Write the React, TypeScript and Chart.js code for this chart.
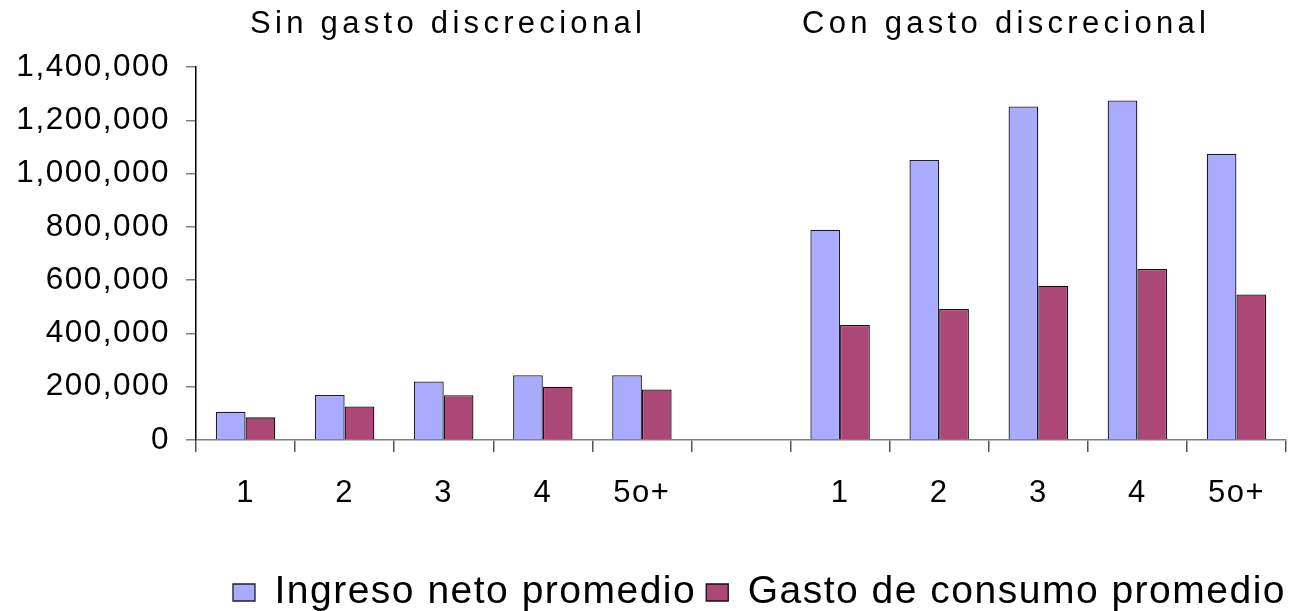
import React, { useEffect, useRef } from 'react';
import { Chart, registerables } from 'chart.js';

Chart.register(...registerables);

const categories = ['1', '2', '3', '4', '5o+', '', '1', '2', '3', '4', '5o+'];
const ingresoNeto = [106000, 169000, 220000, 243000, 243000, null, 789000, 1051000, 1252000, 1274000, 1074000];
const gastoConsumo = [85000, 126000, 168000, 200000, 190000, null, 432000, 492000, 579000, 642000, 546000];
const seriesLabels = ['Ingreso neto promedio', 'Gasto de consumo promedio'];
const groupTitles = ['Sin gasto discrecional', 'Con gasto discrecional'];
const yMin = 0;
const yMax = 1400000;
const yStep = 200000;

const FONT = '"Liberation Sans", Arial, Helvetica, sans-serif';

const spacingPlugin = {
  id: 'letterSpacing',
  beforeUpdate(chart: any) {
    chart.ctx.letterSpacing = '1.5px';
  },
  beforeDraw(chart: any) {
    chart.ctx.letterSpacing = '1.5px';
  },
};

export default function App() {
  const canvasRef = useRef<HTMLCanvasElement | null>(null);

  useEffect(() => {
    if (!canvasRef.current) return;
    Chart.defaults.font.family = FONT;
    Chart.defaults.color = '#000';
    const chart = new Chart(canvasRef.current, {
      type: 'bar',
      data: {
        labels: categories,
        datasets: [
          {
            label: seriesLabels[0],
            data: ingresoNeto,
            backgroundColor: '#A9ABFF',
            borderColor: '#1c1c30',
            borderWidth: 1.3,
            categoryPercentage: 0.6,
            barPercentage: 1.0,
          },
          {
            label: seriesLabels[1],
            data: gastoConsumo,
            backgroundColor: '#AB4875',
            borderColor: '#1e0a14',
            borderWidth: 1.3,
            categoryPercentage: 0.6,
            barPercentage: 1.0,
          },
        ],
      },
      options: {
        responsive: false,
        animation: false,
        devicePixelRatio: 1,
        layout: { padding: { top: 67, right: 2, left: 0, bottom: 0 } },
        plugins: {
          title: { display: false },
          tooltip: { enabled: false },
          legend: {
            display: true,
            position: 'bottom',
            align: 'end',
            labels: {
              boxWidth: 22,
              boxHeight: 17,
              padding: 10,
              color: '#000',
              font: { size: 39, family: FONT },
            },
          },
        },
        scales: {
          x: {
            offset: true,
            grid: {
              offset: true,
              drawOnChartArea: false,
              drawTicks: true,
              tickLength: 12,
              color: '#555',
              lineWidth: 1.5,
            },
            border: { display: true, color: '#808080', width: 1.5 },
            ticks: {
              color: '#000',
              padding: 23,
              maxRotation: 0,
              autoSkip: false,
              font: { size: 31, family: FONT },
            },
            afterFit(scale: any) {
              scale.height = 123;
            },
          },
          y: {
            min: yMin,
            max: yMax,
            grid: {
              drawOnChartArea: false,
              drawTicks: true,
              tickLength: 10,
              color: '#808080',
              lineWidth: 1.5,
            },
            border: { display: true, color: '#000', width: 1.5 },
            ticks: {
              stepSize: yStep,
              color: '#000',
              padding: 16,
              font: { size: 31.5, family: FONT },
              callback: (v: any) => Number(v).toLocaleString('en-US'),
            },
            afterFit(scale: any) {
              scale.width = 196;
            },
          },
          yRight: {
            position: 'right',
            display: true,
            grid: { display: false },
            border: { display: false },
            ticks: { display: false },
            afterFit(scale: any) {
              scale.width = 10;
            },
          },
        },
      },
      plugins: [spacingPlugin],
    } as any);
    return () => chart.destroy();
  }, []);

  const titleStyle: React.CSSProperties = {
    position: 'absolute',
    top: 7,
    fontFamily: FONT,
    fontSize: 31,
    lineHeight: '31px',
    letterSpacing: '4.3px',
    color: '#000',
    whiteSpace: 'nowrap',
  };

  return (
    <div
      style={{
        position: 'fixed',
        left: 0,
        top: 0,
        width: 1298,
        height: 611,
        overflow: 'hidden',
        background: '#fff',
      }}
    >
      <canvas
        ref={canvasRef}
        width={1298}
        height={622}
        style={{ display: 'block', width: '1298px', height: '622px' }}
      />
      <div style={{ ...titleStyle, left: 250 }}>{groupTitles[0]}</div>
      <div style={{ ...titleStyle, left: 802 }}>{groupTitles[1]}</div>
    </div>
  );
}
